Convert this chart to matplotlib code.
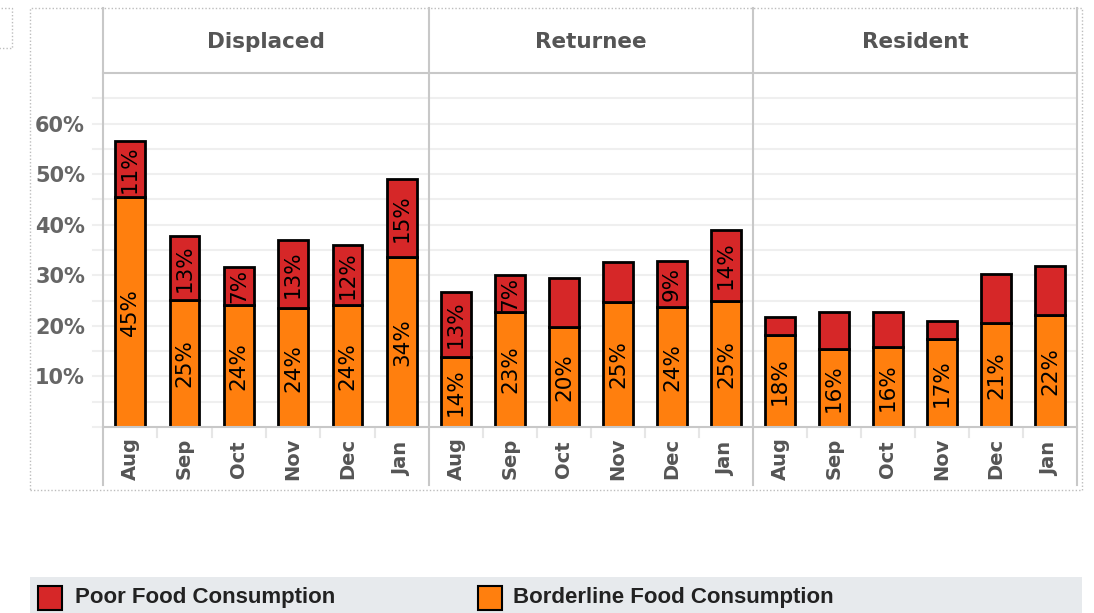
import matplotlib
matplotlib.use("Agg")
import matplotlib.pyplot as plt
from matplotlib.patches import Rectangle
from matplotlib.lines import Line2D

# ---------------- data ----------------
months = ['Aug', 'Sep', 'Oct', 'Nov', 'Dec', 'Jan']
groups = ['Displaced', 'Returnee', 'Resident']

borderline_displaced = [45.4, 25.2, 24.2, 23.5, 24.2, 33.7]
borderline_returnee = [13.9, 22.7, 19.8, 24.7, 23.8, 25.0]
borderline_resident = [18.2, 15.5, 15.9, 17.4, 20.6, 22.2]

poor_displaced = [11.1, 12.6, 7.4, 13.4, 11.7, 15.4]
poor_returnee = [12.7, 7.4, 9.6, 7.9, 9.1, 13.9]
poor_resident = [3.6, 7.2, 6.8, 3.6, 9.6, 9.6]

# which poor-segment labels are shown
poor_label_displaced = [True, True, True, True, True, True]
poor_label_returnee = [True, True, False, False, True, True]
poor_label_resident = [False] * 6

yticks = [10, 20, 30, 40, 50, 60]
series_names = ['Poor Food Consumption', 'Borderline Food Consumption']

# ---------------- style ----------------
RED = '#d62728'
ORANGE = '#ff7f0e'
GRID = '#efefef'
LINE = '#c8c8c8'
TXT = '#555555'

W, H = 1094, 613
fig = plt.figure(figsize=(W / 100, H / 100), dpi=100)


def fx(x):
    return x / W


def fy(y):
    return 1 - y / H


def rect(x0, y0, x1, y1):
    return [fx(x0), fy(y1), fx(x1) - fx(x0), fy(y0) - fy(y1)]


panel_x = [(103, 429), (429, 753), (753, 1077)]
TOP, HEAD, BASE, XBOT = 8, 73, 427, 487

data = {
    'Displaced': (borderline_displaced, poor_displaced, poor_label_displaced),
    'Returnee': (borderline_returnee, poor_returnee, poor_label_returnee),
    'Resident': (borderline_resident, poor_resident, poor_label_resident),
}

# outer dotted frame and small dotted box
fig.add_artist(Rectangle((fx(30), fy(490)), fx(1082) - fx(30), fy(8) - fy(490),
                         transform=fig.transFigure, fill=False, ec='#bdbdbd',
                         ls=(0, (1, 1.5)), lw=1))
fig.add_artist(Rectangle((fx(-2), fy(48)), fx(12) + 2 / W, fy(8) - fy(48),
                         transform=fig.transFigure, fill=False, ec='#bdbdbd',
                         ls=(0, (1, 1.5)), lw=1))

# gridline stubs left of first panel
for t in range(5, 70, 5):
    yp = BASE - t * (BASE - HEAD) / 70.0
    fig.add_artist(Line2D([fx(93), fx(103)], [fy(yp), fy(yp)],
                          transform=fig.transFigure, color=GRID, lw=1.5))
fig.add_artist(Line2D([fx(93), fx(103)], [fy(BASE), fy(BASE)],
                      transform=fig.transFigure, color=GRID, lw=1.5))

x = list(range(len(months)))
for i, g in enumerate(groups):
    x0, x1 = panel_x[i]
    ax = fig.add_axes(rect(x0, HEAD, x1, BASE))
    bl, pr, show = data[g]
    ax.set_xlim(-0.5, 5.5)
    ax.set_ylim(0, 70)
    for t in range(5, 70, 5):
        ax.axhline(t, color=GRID, lw=1.5, zorder=0)
    ax.bar(x, bl, width=0.55, color=ORANGE, edgecolor='black', lw=2, zorder=3)
    ax.bar(x, pr, bottom=bl, width=0.55, color=RED, edgecolor='black', lw=2, zorder=3)
    for xi, b, p, s in zip(x, bl, pr, show):
        ax.text(xi, b / 2, f"{b:.0f}%", rotation=90, ha='center', va='center',
                fontsize=15.5, color='black', zorder=4)
        if s:
            ax.text(xi, b + p / 2, f"{p:.0f}%", rotation=90, ha='center',
                    va='center', fontsize=15.5, color='black', zorder=4)
    for sp in ax.spines.values():
        sp.set_visible(False)
    ax.set_xticks([])
    ax.set_yticks([])
    if i == 0:
        ax.set_yticks(yticks)
        ax.set_yticklabels([f"{t}%" for t in yticks], fontsize=15,
                           fontweight='bold', color='#666666')
        ax.tick_params(axis='y', length=0, pad=13)
    ax.patch.set_alpha(0)

    # header
    hx = fig.add_axes(rect(x0, TOP, x1, HEAD))
    hx.set_axis_off()
    hx.text(0.5, 0.47, g, ha='center', va='center', fontsize=15.5,
            fontweight='bold', color=TXT, transform=hx.transAxes)

    # month labels
    lx = fig.add_axes(rect(x0, BASE, x1, XBOT))
    lx.set_axis_off()
    lx.set_xlim(-0.5, 5.5)
    lx.set_ylim(0, 1)
    for xi, m in zip(x, months):
        lx.text(xi, 0.47, m, rotation=90, ha='center', va='center',
                fontsize=14, fontweight='bold', color=TXT)
    for k in range(1, 6):
        lx.plot([k - 0.5, k - 0.5], [1, 0.83], color='#e6e6e6', lw=1.5)

# panel borders
for xv in [103, 429, 753, 1077]:
    fig.add_artist(Line2D([fx(xv), fx(xv)], [fy(TOP), fy(XBOT - 2)],
                          transform=fig.transFigure, color=LINE, lw=1.5))
fig.add_artist(Line2D([fx(103), fx(1077)], [fy(HEAD), fy(HEAD)],
                      transform=fig.transFigure, color=LINE, lw=1.5))
fig.add_artist(Line2D([fx(103), fx(1077)], [fy(BASE), fy(BASE)],
                      transform=fig.transFigure, color=LINE, lw=1.5))

# legend band
fig.add_artist(Rectangle((fx(30), fy(613)), fx(1082) - fx(30), fy(577) - fy(613),
                         transform=fig.transFigure, color='#e7eaed', lw=0))
for (sx, tx), col, name in zip([(38, 75), (478, 513)], [RED, ORANGE], series_names):
    fig.add_artist(Rectangle((fx(sx), fy(610)), fx(24), fy(586) - fy(610),
                             transform=fig.transFigure, fc=col, ec='black', lw=1.5))
    fig.text(fx(tx), fy(598), name, ha='left', va='center', fontsize=16,
             fontweight='bold', color='#222222',
             family=['Liberation Sans', 'DejaVu Sans'])

fig.savefig('out.png', dpi=100)
